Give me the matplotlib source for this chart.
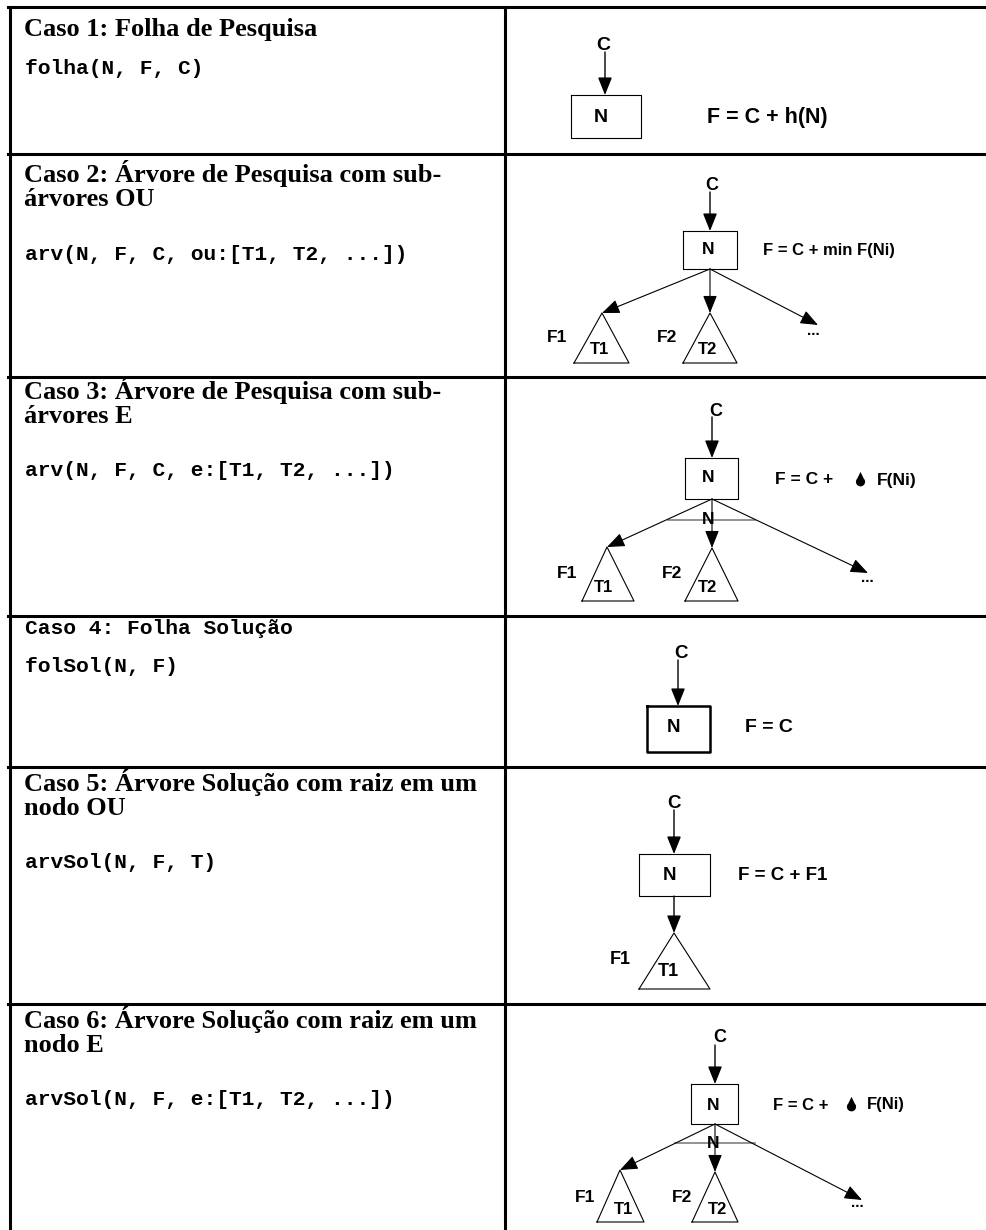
import numpy as np
import matplotlib.pyplot as plt
from matplotlib.path import Path

# table layout (pixels, y grows downward)
row_tops = [7, 154, 377, 616, 767, 1004]
col_split = 505

titles = [
    ["Caso 1: Folha de Pesquisa"],
    ["Caso 2: Árvore de Pesquisa com sub-", "árvores OU"],
    ["Caso 3: Árvore de Pesquisa com sub-", "árvores E"],
    ["Caso 4: Folha Solução"],
    ["Caso 5: Árvore Solução com raiz em um", "nodo OU"],
    ["Caso 6: Árvore Solução com raiz em um", "nodo E"],
]
title_mono = [False, False, False, True, False, False]
signatures = [
    "folha(N, F, C)",
    "arv(N, F, C, ou:[T1, T2, ...])",
    "arv(N, F, C, e:[T1, T2, ...])",
    "folSol(N, F)",
    "arvSol(N, F, T)",
    "arvSol(N, F, e:[T1, T2, ...])",
]
title_offset = [29, 28, 22, 18, 24, 24]
sig_offset = [67, 106, 99, 56, 101, 101]

# formulas next to the node box
formulas = ["F = C + h(N)", "F = C + min F(Ni)", "F = C +", "F = C", "F = C + F1", "F = C +"]

fig = plt.figure(figsize=(9.87, 12.3), dpi=100)
ax = fig.add_axes([0, 0, 1, 1])
ax.set_xlim(0, 987)
ax.set_ylim(1230, 0)
ax.axis('off')

SERIF = 'Liberation Serif'
MONO = 'Liberation Mono'
SANS = 'Liberation Sans'

# --- table grid
for y in row_tops:
    ax.plot([8, 987], [y, y], color='black', lw=2.2)
ax.plot([10, 10], [row_tops[0], 1230], color='black', lw=2.2)
ax.plot([col_split, col_split], [row_tops[0], 1230], color='black', lw=2.2)

# --- left column text
for i, top in enumerate(row_tops):
    y = top + title_offset[i]
    for line in titles[i]:
        if title_mono[i]:
            ax.text(25, y, line, family=MONO, weight='bold', fontsize=15.3, va='baseline')
        else:
            ax.text(24, y, line, family=SERIF, weight='bold', fontsize=19, va='baseline')
        y += 24
    ax.text(25, top + sig_offset[i], signatures[i], family=MONO, weight='bold',
            fontsize=15.3, va='baseline')


def arrow(x0, y0, x1, y1, lw=1.0):
    ax.annotate('', xy=(x1, y1), xytext=(x0, y0),
                arrowprops=dict(arrowstyle='-|>,head_length=0.6,head_width=0.24',
                                mutation_scale=18, lw=lw, color='black',
                                shrinkA=0, shrinkB=0))


def box(x0, x1, y0, y1, lw=0.8):
    ax.plot([x0, x1, x1, x0, x0], [y0, y0, y1, y1, y0], color='black', lw=lw)


def tri(xa, ya, xl, xr, yb):
    ax.plot([xl, xa, xr, xl], [yb, ya, yb, yb], color='black', lw=0.8)


def label(x, y, s, size=12.5, ha='center'):
    ax.text(x, y, s, family=SANS, weight='bold', fontsize=size, ha=ha, va='center')


# teardrop marker used in place of the sum symbol
t = np.linspace(-0.25 * np.pi, 1.25 * np.pi, 40)
drop_x = np.concatenate([[0.0], 0.6 * np.cos(t[::-1])])
drop_y = np.concatenate([[1.0], -0.3 + 0.6 * np.sin(-t[::-1])])
drop = Path(np.column_stack([drop_x, drop_y]))


def drop_mark(x, y):
    ax.plot([x], [y], marker=drop, markersize=11, color='black', mec='black', mew=0)


# --- case 1: leaf
label(603, 45, 'C', 14)
arrow(605, 52, 605, 95, lw=1.0)
box(571, 641, 95, 138)
label(601, 117, 'N', 14)
label(707, 117, formulas[0], 15.5, ha='left')

# --- case 2: OR tree
label(712, 185, 'C', 13)
arrow(710, 192, 710, 231)
box(683, 737, 231, 269)
label(708, 250, 'N')
label(763, 250, formulas[1], 12, ha='left')
arrow(710, 269, 602, 313, lw=0.8)
arrow(710, 269, 710, 313, lw=0.8)
arrow(710, 269, 818, 325, lw=0.8)
label(813, 331, '...', 11)
label(557, 338, 'F1')
label(667, 338, 'F2')
tri(602, 313, 574, 629, 363)
tri(710, 313, 683, 737, 363)
label(599, 349, 'T1', 12)
label(707, 349, 'T2', 12)

# --- case 3: AND tree
label(716, 411, 'C', 13)
arrow(712, 417, 712, 458)
box(685, 738, 458, 499)
label(708, 478, 'N')
label(775, 480, formulas[2], 12.5, ha='left')
drop_mark(860, 479)
label(877, 480, 'F(Ni)', 12.5, ha='left')
ax.plot([668, 755], [520, 520], color='#808080', lw=1.2)
arrow(712, 499, 607, 547, lw=0.8)
arrow(712, 499, 712, 548, lw=0.8)
arrow(712, 499, 868, 573, lw=0.8)
label(708, 520, 'N')
label(867, 578, '...', 11)
label(567, 573, 'F1')
label(672, 573, 'F2')
tri(607, 547, 582, 634, 601)
tri(712, 548, 685, 738, 601)
label(604, 588, 'T1', 12)
label(708, 588, 'T2', 12)

# --- case 4: solution leaf
label(681, 654, 'C', 13.5)
arrow(678, 660, 678, 706)
box(647, 710, 706, 752, lw=1.8)
label(674, 728, 'N', 13.5)
label(745, 728, formulas[3], 14, ha='left')

# --- case 5: solution tree, OR root
label(674, 803, 'C', 13.5)
arrow(674, 810, 674, 854)
box(639, 710, 854, 896)
label(669, 876, 'N', 13.5)
label(738, 876, formulas[4], 13.5, ha='left')
arrow(674, 896, 674, 933)
tri(674, 933, 639, 710, 989)
label(620, 960, 'F1', 13)
label(668, 972, 'T1', 13)

# --- case 6: solution tree, AND root
label(720, 1038, 'C', 13)
arrow(715, 1045, 715, 1084)
box(691, 738, 1084, 1124)
label(713, 1105, 'N')
label(773, 1105, formulas[5], 12, ha='left')
drop_mark(851, 1104)
label(867, 1105, 'F(Ni)', 12, ha='left')
ax.plot([675, 755], [1143, 1143], color='#808080', lw=1.2)
arrow(715, 1124, 620, 1170, lw=0.8)
arrow(715, 1124, 715, 1172, lw=0.8)
arrow(715, 1124, 862, 1200, lw=0.8)
label(713, 1143, 'N')
label(857, 1203, '...', 11)
label(585, 1197, 'F1')
label(682, 1197, 'F2')
tri(620, 1170, 597, 644, 1222)
tri(715, 1172, 692, 738, 1222)
label(624, 1209, 'T1', 12)
label(718, 1209, 'T2', 12)

fig.savefig('out.png', dpi=100)
